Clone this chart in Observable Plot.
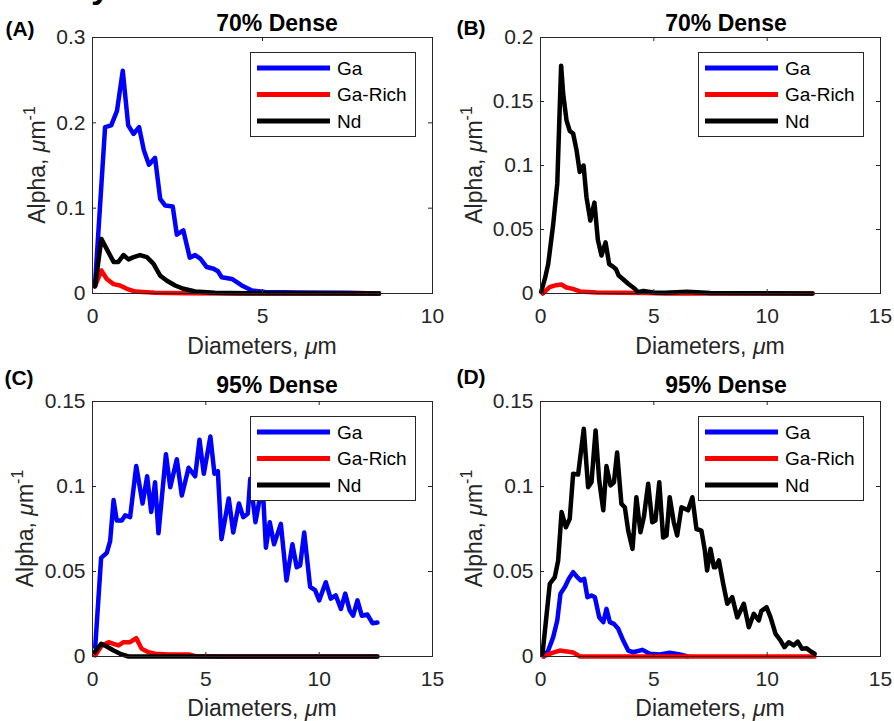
<!DOCTYPE html>
<html>
<head>
<meta charset="utf-8">
<script src="https://cdn.jsdelivr.net/npm/d3@7"></script>
<script src="https://cdn.jsdelivr.net/npm/@observablehq/plot@0.6"></script>
<style>
  html, body { margin: 0; padding: 0; background: #fff; }
  #root { position: relative; width: 894px; height: 721px; overflow: hidden; background: #fff;
          font-family: "Liberation Sans", Arial, sans-serif; }
  .panel { position: absolute; }
  .legend { position: absolute; box-sizing: border-box; background: #fff; border: 1px solid #262626; }
  .legend svg { display: block; }
</style>
</head>
<body>
<div id="root"></div>
<script>
// ---------- data ----------
const seriesNames = ["Ga", "Ga-Rich", "Nd"];
const seriesColors = ["#0000ff", "#ff0000", "#000000"];

const panelLetters = ["(A)", "(B)", "(C)", "(D)"];
const panelTitles = ["70% Dense", "70% Dense", "95% Dense", "95% Dense"];
const xLabelText = "Diameters, ";
const yLabelText = "Alpha, ";

const xTicksA = [0, 5, 10];
const xTicksB = [0, 5, 10, 15];
const xTicksC = [0, 5, 10, 15];
const xTicksD = [0, 5, 10, 15];
const yTicksA = [0, 0.1, 0.2, 0.3];
const yTicksB = [0, 0.05, 0.1, 0.15, 0.2];
const yTicksC = [0, 0.05, 0.1, 0.15];
const yTicksD = [0, 0.05, 0.1, 0.15];

// Panel A (70% dense)
const A_Ga = [[0.07,0.008],[0.37,0.195],[0.55,0.197],[0.72,0.214],[0.89,0.261],[1.05,0.197],[1.21,0.187],[1.37,0.195],[1.51,0.168],[1.66,0.151],[1.84,0.159],[1.99,0.111],[2.14,0.103],[2.36,0.102],[2.48,0.069],[2.67,0.074],[2.86,0.042],[3.02,0.045],[3.17,0.041],[3.36,0.031],[3.56,0.029],[3.69,0.026],[3.8,0.019],[4.1,0.017],[4.39,0.0094],[4.69,0.0035],[5.08,0.0018],[6.1,0.0012],[7.5,0.0008],[8.43,0]];
const A_GaRich = [[0.08,0.009],[0.26,0.027],[0.42,0.017],[0.62,0.011],[0.81,0.0094],[1.01,0.0055],[1.26,0.0023],[1.84,0.0008],[2.8,0.0003],[4.0,0],[8.43,0]];
const A_Nd = [[0.08,0.009],[0.26,0.064],[0.42,0.052],[0.62,0.037],[0.76,0.037],[0.91,0.045],[1.06,0.040],[1.21,0.0426],[1.4,0.045],[1.6,0.0426],[1.79,0.035],[1.99,0.021],[2.19,0.015],[2.43,0.0094],[2.68,0.0055],[3.02,0.0023],[3.6,0.001],[4.5,0.0002],[8.43,0]];

// Panel B (70% dense) - no visible Ga curve
const B_Ga = [];
const B_GaRich = [[0.1,0],[0.4,0.005],[0.69,0.0065],[0.92,0.007],[1.14,0.0047],[1.43,0.0036],[1.73,0.0016],[2.47,0.0008],[4.68,0.0003],[5.5,0],[12.0,0]];
const B_Nd = [[0.03,0.0013],[0.2,0.012],[0.34,0.023],[0.56,0.054],[0.74,0.086],[0.91,0.178],[1.0,0.156],[1.15,0.135],[1.29,0.127],[1.44,0.125],[1.59,0.112],[1.73,0.095],[1.9,0.1],[2.03,0.075],[2.2,0.057],[2.38,0.071],[2.53,0.042],[2.69,0.0297],[2.87,0.040],[3.03,0.023],[3.2,0.021],[3.33,0.019],[3.45,0.014],[3.62,0.0115],[3.87,0.0076],[4.16,0.0037],[4.3,0.001],[4.54,0.002],[4.98,0.0008],[5.5,0.0005],[6.46,0.0013],[7.5,0.0003],[12.0,0]];

// Panel C (95% dense)
const C_Ga = [[0.12,0.0055],[0.38,0.058],[0.63,0.061],[0.78,0.068],[0.93,0.092],[1.07,0.080],[1.29,0.080],[1.44,0.083],[1.66,0.082],[1.93,0.112],[2.21,0.090],[2.41,0.106],[2.59,0.085],[2.76,0.1025],[2.91,0.0725],[3.24,0.119],[3.43,0.0996],[3.72,0.116],[3.94,0.0947],[4.24,0.111],[4.53,0.106],[4.72,0.1275],[4.91,0.1075],[5.2,0.1294],[5.38,0.1075],[5.53,0.109],[5.69,0.069],[6.01,0.093],[6.21,0.073],[6.46,0.090],[6.65,0.082],[6.85,0.084],[6.96,0.1045],[7.19,0.079],[7.38,0.093],[7.52,0.097],[7.65,0.064],[7.82,0.079],[8.01,0.066],[8.31,0.078],[8.56,0.0447],[8.82,0.066],[9.01,0.0525],[9.16,0.0535],[9.34,0.073],[9.6,0.041],[9.82,0.039],[10.0,0.033],[10.29,0.0437],[10.51,0.034],[10.73,0.036],[10.96,0.028],[11.15,0.037],[11.35,0.027],[11.5,0.024],[11.69,0.033],[11.88,0.024],[12.13,0.0247],[12.35,0.0196],[12.57,0.020]];
const C_GaRich = [[0.12,0.0006],[0.41,0.0065],[0.71,0.0084],[0.93,0.0074],[1.15,0.0065],[1.37,0.0084],[1.66,0.0084],[1.93,0.0108],[2.17,0.0045],[2.47,0.0025],[2.76,0.0016],[3.35,0.0012],[4.24,0.0012],[4.5,0.0003],[5.5,0],[12.57,0]];
const C_Nd = [[0.09,0.0025],[0.38,0.0074],[0.63,0.0059],[0.93,0.0035],[1.22,0.0016],[1.59,0],[12.57,0]];

// Panel D (95% dense)
const D_Ga = [[0.15,0],[0.34,0.0035],[0.56,0.0114],[0.74,0.0212],[0.88,0.0369],[1.07,0.0408],[1.25,0.0457],[1.44,0.0496],[1.62,0.0467],[1.78,0.0447],[1.93,0.0457],[2.07,0.0349],[2.25,0.0359],[2.4,0.0349],[2.59,0.0231],[2.77,0.0202],[2.91,0.028],[3.06,0.0202],[3.24,0.0192],[3.43,0.0163],[3.65,0.0094],[3.87,0.0035],[4.09,0.0025],[4.5,0.0039],[4.82,0.0016],[5.26,0.0012],[5.7,0.0022],[6.15,0.0012],[6.5,0]];
const D_GaRich = [[0.12,0],[0.49,0.002],[0.85,0.0035],[1.15,0.003],[1.44,0.0024],[1.74,0],[12.09,0]];
const D_Nd = [[0.09,0.0016],[0.41,0.0428],[0.63,0.0467],[0.78,0.0565],[0.93,0.085],[1.12,0.076],[1.29,0.081],[1.44,0.1075],[1.66,0.107],[1.91,0.134],[2.1,0.0996],[2.25,0.1025],[2.43,0.133],[2.59,0.1035],[2.77,0.086],[2.91,0.112],[3.09,0.1006],[3.24,0.1025],[3.38,0.120],[3.57,0.0898],[3.72,0.0878],[3.87,0.074],[4.06,0.0633],[4.23,0.0937],[4.41,0.0731],[4.56,0.082],[4.75,0.1016],[4.93,0.079],[5.07,0.080],[5.24,0.1025],[5.41,0.070],[5.56,0.0712],[5.7,0.0937],[5.88,0.079],[6.03,0.0712],[6.22,0.0878],[6.51,0.086],[6.7,0.0937],[6.88,0.075],[7.1,0.074],[7.25,0.0624],[7.35,0.0506],[7.5,0.0633],[7.65,0.0525],[7.72,0.0525],[7.87,0.0565],[8.06,0.0428],[8.24,0.031],[8.46,0.0349],[8.68,0.023],[8.97,0.031],[9.19,0.0172],[9.41,0.0251],[9.63,0.0212],[9.74,0.0267],[9.97,0.029],[10.15,0.023],[10.37,0.0133],[10.59,0.0094],[10.76,0.0055],[10.95,0.0084],[11.17,0.0065],[11.35,0.0088],[11.54,0.0045],[11.73,0.0049],[11.91,0.0031],[12.09,0.0016]];

// ---------- layout ----------
const AXIS = "#262626";
const FONT = "Liberation Sans, Arial, sans-serif";
const panels = [
  {left: 0,   top: 0,   height: 360, mt: 37, mb: 67, ml: 92, mr: 15, xDomain: [0,10], yDomain: [0,0.3],  xTicks: xTicksA, yTicks: yTicksA, series: [A_Ga, A_GaRich, A_Nd],
   letter: {x: 20, y: 36}, title: {x: 277, y: 31}, xlab: {y: 354}, ylab: {x: 45}},
  {left: 447, top: 0,   height: 360, mt: 37, mb: 67, ml: 93, mr: 14, xDomain: [0,15], yDomain: [0,0.2],  xTicks: xTicksB, yTicks: yTicksB, series: [B_Ga, B_GaRich, B_Nd],
   letter: {x: 24, y: 35}, title: {x: 279, y: 31}, xlab: {y: 354}, ylab: {x: 35}},
  {left: 0,   top: 360, height: 361, mt: 41, mb: 65, ml: 92, mr: 15, xDomain: [0,15], yDomain: [0,0.15], xTicks: xTicksC, yTicks: yTicksC, series: [C_Ga, C_GaRich, C_Nd],
   letter: {x: 19, y: 25}, title: {x: 277, y: 33}, xlab: {y: 356}, ylab: {x: 33}},
  {left: 447, top: 360, height: 361, mt: 41, mb: 65, ml: 93, mr: 14, xDomain: [0,15], yDomain: [0,0.15], xTicks: xTicksD, yTicks: yTicksD, series: [D_Ga, D_GaRich, D_Nd],
   letter: {x: 24, y: 24}, title: {x: 279, y: 33}, xlab: {y: 356}, ylab: {x: 35}}
];

const root = document.getElementById("root");
const W = 447;
const fmt = d => String(d);

panels.forEach((p, i) => {
  const H = p.height - p.mt - p.mb;
  const PW = W - p.ml - p.mr;
  const marks = [
    ...p.series.map((s, k) => Plot.line(s, {x: d => d[0], y: d => d[1], stroke: seriesColors[k], strokeWidth: 4.5, strokeLinejoin: "round", strokeLinecap: "round"})),
    Plot.frame({stroke: AXIS, strokeWidth: 1}),
    Plot.tickX(p.xTicks, {x: d => d, insetTop: H - 4, stroke: AXIS}),
    Plot.tickX(p.xTicks, {x: d => d, insetBottom: H - 4, stroke: AXIS}),
    Plot.tickY(p.yTicks, {y: d => d, insetRight: PW - 4, stroke: AXIS}),
    Plot.tickY(p.yTicks, {y: d => d, insetLeft: PW - 4, stroke: AXIS}),
    Plot.axisX(p.xTicks, {tickSize: 0, tickPadding: 15, label: null, tickFormat: fmt, fontSize: 21}),
    Plot.axisY(p.yTicks, {tickSize: 0, tickPadding: 7, label: null, tickFormat: fmt, fontSize: 21})
  ];
  const svgEl = Plot.plot({
    width: W, height: p.height,
    marginTop: p.mt, marginBottom: p.mb, marginLeft: p.ml, marginRight: p.mr,
    x: {domain: p.xDomain, label: null},
    y: {domain: p.yDomain, label: null},
    style: {fontFamily: FONT, fontSize: "21px", color: AXIS, background: "transparent", overflow: "visible"},
    marks
  });
  const holder = document.createElement("div");
  holder.className = "panel";
  holder.style.left = p.left + "px";
  holder.style.top = p.top + "px";
  holder.appendChild(svgEl);
  root.appendChild(holder);

  const svg = d3.select(svgEl);
  // panel letter
  svg.append("text").attr("x", p.letter.x).attr("y", p.letter.y)
    .attr("font-family", FONT).attr("font-size", 21).attr("font-weight", "bold").attr("fill", "#000")
    .text(panelLetters[i]);
  // title
  svg.append("text").attr("x", p.title.x).attr("y", p.title.y).attr("text-anchor", "middle")
    .attr("font-family", FONT).attr("font-size", 23).attr("font-weight", "bold").attr("fill", "#000")
    .text(panelTitles[i]);
  // x label
  const xl = svg.append("text").attr("x", p.ml + PW / 2).attr("y", p.xlab.y).attr("text-anchor", "middle")
    .attr("font-family", FONT).attr("font-size", 23).attr("fill", AXIS);
  xl.append("tspan").text(xLabelText);
  xl.append("tspan").attr("font-style", "italic").text("μ");
  xl.append("tspan").text("m");
  // y label
  const cy = p.mt + H / 2;
  const yl = svg.append("text").attr("transform", `translate(${p.ylab.x},${cy}) rotate(-90)`).attr("text-anchor", "middle")
    .attr("font-family", FONT).attr("font-size", 23).attr("fill", AXIS);
  yl.append("tspan").text(yLabelText);
  yl.append("tspan").attr("font-style", "italic").text("μ");
  yl.append("tspan").text("m");
  yl.append("tspan").attr("font-size", 16).attr("dy", -10).text("-1");

  // legend
  const LW = 166, LH = 85;
  const leg = document.createElement("div");
  leg.className = "legend";
  leg.style.left = (p.left + p.ml + PW - 16 - LW) + "px";
  leg.style.top = (p.top + p.mt + 15) + "px";
  leg.style.width = LW + "px";
  leg.style.height = LH + "px";
  root.appendChild(leg);
  const ls = d3.select(leg).append("svg").attr("width", LW - 2).attr("height", LH - 2);
  const rowY = [16, 42.5, 69];
  seriesNames.forEach((name, k) => {
    ls.append("line").attr("x1", 6).attr("x2", 79).attr("y1", rowY[k] - 1).attr("y2", rowY[k] - 1)
      .attr("stroke", seriesColors[k]).attr("stroke-width", 5);
    ls.append("text").attr("x", 86).attr("y", rowY[k] - 1).attr("dy", "0.35em")
      .attr("font-family", FONT).attr("font-size", 19).attr("fill", "#000").text(name);
  });
});

// cropped fragment of text above the figure (top edge)
const frag = document.createElementNS("http://www.w3.org/2000/svg", "svg");
frag.setAttribute("width", "894"); frag.setAttribute("height", "20");
frag.style.position = "absolute"; frag.style.left = "0"; frag.style.top = "0";
d3.select(frag).append("text").attr("x", 91).attr("y", -2).attr("font-family", FONT)
  .attr("font-size", 34).attr("font-weight", "bold").attr("fill", "#000").text("y");
root.appendChild(frag);
</script>
</body>
</html>
